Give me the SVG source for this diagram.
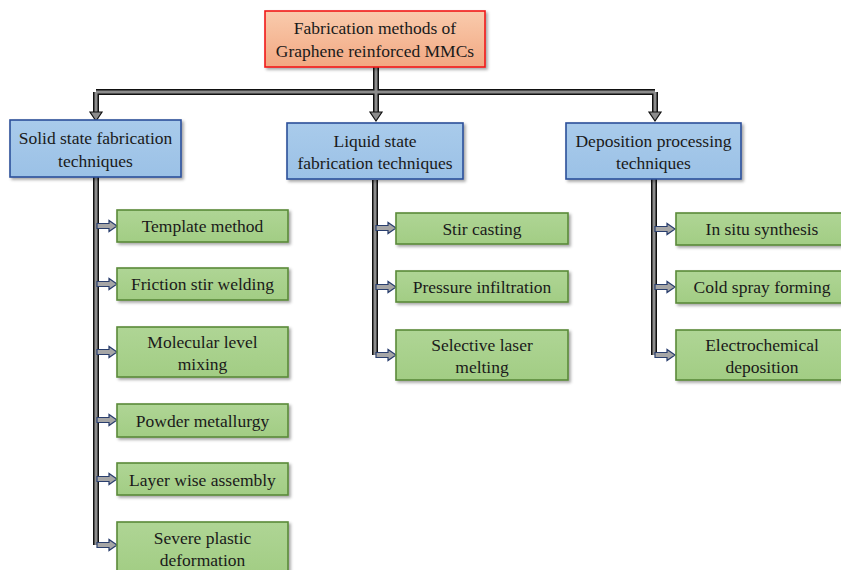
<svg xmlns="http://www.w3.org/2000/svg" width="841" height="570" viewBox="0 0 841 570">
<defs>
<linearGradient id="gRed" x1="0" y1="0" x2="0" y2="1"><stop offset="0" stop-color="#F9CBAD"/><stop offset="1" stop-color="#F2A882"/></linearGradient>
<linearGradient id="gBlue" x1="0" y1="0" x2="0" y2="1"><stop offset="0" stop-color="#A9CBEB"/><stop offset="1" stop-color="#9BC1E6"/></linearGradient>
<linearGradient id="gGreen" x1="0" y1="0" x2="0" y2="1"><stop offset="0" stop-color="#AFD595"/><stop offset="1" stop-color="#A2CD84"/></linearGradient>
<filter id="sh" x="-10%" y="-20%" width="125%" height="150%"><feDropShadow dx="2" dy="2" stdDeviation="1.5" flood-color="#000" flood-opacity="0.35"/></filter>
<style>
.t{font-family:"Liberation Serif","Times New Roman",serif;font-size:17.5px;fill:#1a1a1a;text-anchor:middle}
.red{fill:url(#gRed);stroke:#F01818;stroke-width:1.6;filter:url(#sh)}
.blue{fill:url(#gBlue);stroke:#2B4F9A;stroke-width:1.6;filter:url(#sh)}
.green{fill:url(#gGreen);stroke:#5A8A3A;stroke-width:1.6;filter:url(#sh)}
.lo{fill:none;stroke:#111;stroke-width:6}
.li{fill:none;stroke:#8C8C8C;stroke-width:3}
.ah{fill:#8C8C8C;stroke:#111;stroke-width:1.2}
.ba{fill:#A6A6A6;stroke:#2A3F6E;stroke-width:1.2}
</style>
<path id="barr" d="M0,-2.5 H12 V-5.5 L20,0 L12,5.5 V2.5 H0 Z"/>
</defs>
<g id="connectors">
<path class="lo" d="M376,67 V92 M96,92 H655 M96,92 V113 M376,92 V113 M655,92 V113 M96,177 V545 M375,180 V355 M654,179 V355"/>
<path class="li" d="M376,67 V92 M96,92 H655 M96,92 V113 M376,92 V113 M655,92 V113 M96,177 V545 M375,180 V355 M654,179 V355"/>
<path class="ah" d="M90,112 H102 L96,121 Z M370,112 H382 L376,121 Z M649,112 H661 L655,121 Z"/>
<use href="#barr" class="ba" x="97" y="226"/>
<use href="#barr" class="ba" x="97" y="284"/>
<use href="#barr" class="ba" x="97" y="352"/>
<use href="#barr" class="ba" x="97" y="420"/>
<use href="#barr" class="ba" x="97" y="479"/>
<use href="#barr" class="ba" x="97" y="545"/>
<use href="#barr" class="ba" x="376" y="228"/>
<use href="#barr" class="ba" x="376" y="287"/>
<use href="#barr" class="ba" x="376" y="355"/>
<use href="#barr" class="ba" x="655" y="229"/>
<use href="#barr" class="ba" x="655" y="287"/>
<use href="#barr" class="ba" x="655" y="355"/>
</g>
<g id="root"><rect class="red" x="265" y="11" width="220" height="56"/><text class="t" x="375" y="34">Fabrication methods of</text><text class="t" x="375" y="57">Graphene reinforced MMCs</text></g>
<g id="solid"><rect class="blue" x="10" y="120" width="171" height="57"/><text class="t" x="95.5" y="144">Solid state fabrication</text><text class="t" x="95.5" y="167">techniques</text></g>
<g id="liquid"><rect class="blue" x="287" y="123" width="176" height="56"/><text class="t" x="375" y="147">Liquid state</text><text class="t" x="375" y="169">fabrication techniques</text></g>
<g id="deposition"><rect class="blue" x="566" y="123" width="175" height="56"/><text class="t" x="653.5" y="147">Deposition processing</text><text class="t" x="653.5" y="169">techniques</text></g>
<g id="template"><rect class="green" x="117" y="210" width="171" height="32"/><text class="t" x="202.5" y="232">Template method</text></g>
<g id="friction"><rect class="green" x="117" y="268" width="171" height="32"/><text class="t" x="202.5" y="290">Friction stir welding</text></g>
<g id="molecular"><rect class="green" x="117" y="327" width="171" height="50"/><text class="t" x="202.5" y="348">Molecular level</text><text class="t" x="202.5" y="370">mixing</text></g>
<g id="powder"><rect class="green" x="117" y="404" width="171" height="33"/><text class="t" x="202.5" y="427">Powder metallurgy</text></g>
<g id="layer"><rect class="green" x="117" y="463" width="171" height="32"/><text class="t" x="202.5" y="486">Layer wise assembly</text></g>
<g id="severe"><rect class="green" x="117" y="522" width="171" height="52"/><text class="t" x="202.5" y="544">Severe plastic</text><text class="t" x="202.5" y="566">deformation</text></g>
<g id="stir"><rect class="green" x="396" y="213" width="172" height="31"/><text class="t" x="482" y="235">Stir casting</text></g>
<g id="pressure"><rect class="green" x="396" y="271" width="172" height="31"/><text class="t" x="482" y="293">Pressure infiltration</text></g>
<g id="selective"><rect class="green" x="396" y="330" width="172" height="50"/><text class="t" x="482" y="351">Selective laser</text><text class="t" x="482" y="373">melting</text></g>
<g id="insitu"><rect class="green" x="676" y="213" width="172" height="32"/><text class="t" x="762" y="235">In situ synthesis</text></g>
<g id="cold"><rect class="green" x="676" y="271" width="172" height="32"/><text class="t" x="762" y="293">Cold spray forming</text></g>
<g id="electro"><rect class="green" x="676" y="330" width="172" height="50"/><text class="t" x="762" y="351">Electrochemical</text><text class="t" x="762" y="373">deposition</text></g>
</svg>
